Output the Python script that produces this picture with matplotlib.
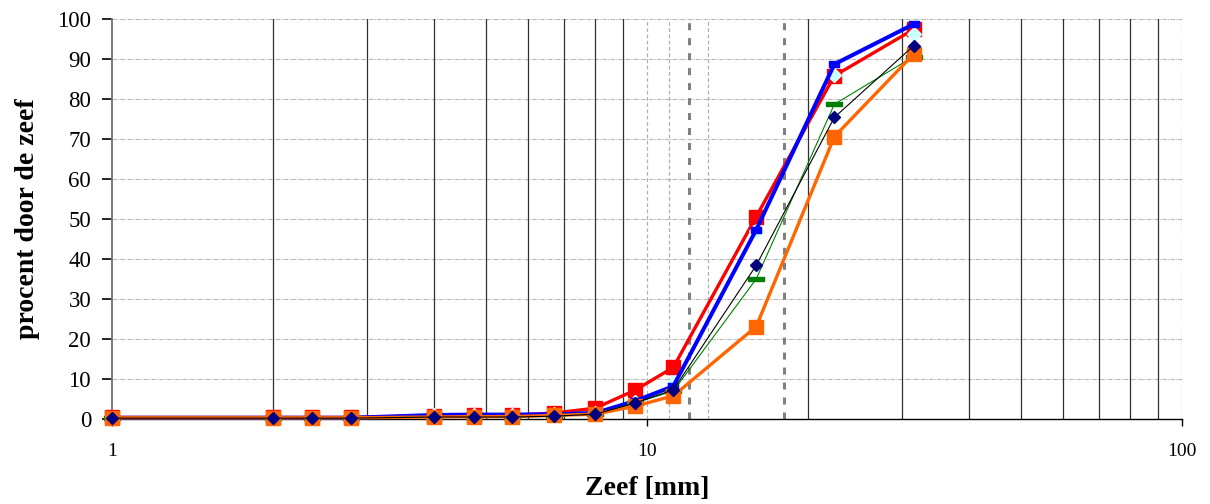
import matplotlib
matplotlib.use('Agg')
import matplotlib.pyplot as plt
from matplotlib.ticker import FixedLocator, NullLocator

plt.rcParams['font.family'] = ['Liberation Serif', 'DejaVu Serif']

# sieve sizes [mm]
zeef = [1, 2, 2.36, 2.8, 4, 4.75, 5.6, 6.7, 8, 9.5, 11.2, 16, 22.4, 31.5]

# percentage passing per sample
rood   = [0.4, 0.4, 0.4, 0.4, 0.8, 0.9, 0.9, 1.5, 2.7, 7.2, 12.9, 50.6, 85.8, 97.4]
blauw  = [0.3, 0.3, 0.3, 0.3, 1.0, 1.1, 1.1, 1.2, 1.5, 4.5, 8.2, 47.3, 88.7, 98.7]
cyaan  = [0.3, 0.3, 0.3, 0.3, 1.0, 1.0, 1.0, 1.2, 1.4, 4.3, 9.0, 47.0, 86.0, 96.2]
groen  = [0.2, 0.2, 0.2, 0.2, 0.5, 0.5, 0.5, 0.7, 1.2, 4.0, 7.0, 35.0, 78.7, 90.6]
oranje = [0.3, 0.3, 0.3, 0.3, 0.5, 0.6, 0.6, 0.9, 1.2, 3.2, 5.8, 23.1, 70.6, 91.2]
navy   = [0.2, 0.2, 0.2, 0.2, 0.5, 0.5, 0.5, 0.7, 1.2, 4.0, 7.3, 38.4, 75.4, 93.3]

# grid / reference lines
solid_grid = [2, 3, 4, 5, 6, 7, 8, 9, 20, 30, 40, 50, 60, 70, 80, 90]
light_grid = [10, 11, 13, 100]
limit_lines = [12, 18]
y_ticks = list(range(0, 101, 10))
x_ticks = [1, 10, 100]

fig = plt.figure(figsize=(12.1, 5.04), dpi=100)
ax = fig.add_axes([112/1210, 1 - 419/504, (1182-112)/1210, 400/504])

ax.set_xscale('log')
ax.set_xlim(1, 100)
ax.set_ylim(0, 100)

# grid lines
for y in y_ticks[1:]:
    ax.axhline(y, color='#b8b8b8', lw=0.8, ls=(0, (4, 1, 1, 1)), zorder=1)
for x in solid_grid:
    ax.axvline(x, color='#303030', lw=0.9, zorder=1)
for x in light_grid:
    ax.axvline(x, color='#b0b0b0', lw=0.9, ls=(0, (3, 2)), zorder=1)
for x in limit_lines:
    ax.axvline(x, color='#808080', lw=2.2, ls=(0, (2.3, 2.6)), zorder=1)

rect_blue = [(-1, -0.5), (1, -0.5), (1, 0.5), (-1, 0.5), (-1, -0.5)]
rect_green = [(-1, -0.28), (1, -0.28), (1, 0.28), (-1, 0.28), (-1, -0.28)]

ax.plot(zeef, rood, color='#ff0000', lw=2.4, marker='s', ms=10.5,
        mec='#ff0000', zorder=3, clip_on=False)
ax.plot(zeef, cyaan, ls='none', marker='D', ms=7.5, mfc='#ccffff',
        mec='#ccffff', zorder=4, clip_on=False)
ax.plot(zeef, blauw, color='#0000ff', lw=2.9, marker=rect_blue, ms=7.5,
        mec='#0000ff', zorder=5, clip_on=False)
ax.plot(zeef, groen, color='#008000', lw=0.8, marker=rect_green, ms=11.5,
        mec='#008000', zorder=6, clip_on=False)
ax.plot(zeef, oranje, color='#ff6600', lw=2.4, marker='s', ms=10.5,
        mec='#ff6600', zorder=7, clip_on=False)
ax.plot(zeef, navy, color='black', lw=0.8, marker='D', ms=6.3,
        mfc='#000080', mec='#000080', zorder=8, clip_on=False)

ax.xaxis.set_major_locator(FixedLocator(x_ticks))
ax.xaxis.set_minor_locator(NullLocator())
ax.set_xticklabels([str(v) for v in x_ticks])
ax.set_yticks(y_ticks)

ax.tick_params(axis='y', direction='out', length=7, width=1.2, pad=8,
               labelsize=16.5, color='black')
ax.tick_params(axis='x', direction='out', length=5, width=1.0, pad=12,
               labelsize=14, color='black')

ax.spines['top'].set_visible(False)
ax.spines['right'].set_visible(False)
ax.spines['left'].set_color('#707070')
ax.spines['left'].set_linewidth(1.3)
ax.spines['bottom'].set_color('black')
ax.spines['bottom'].set_linewidth(1.0)
ax.spines['left'].set_zorder(2)
ax.spines['bottom'].set_zorder(2)

ax.set_xlabel('Zeef [mm]', fontsize=20, fontweight='bold', labelpad=12)
ax.set_ylabel('procent door de zeef', fontsize=20, fontweight='bold', labelpad=12)

plt.savefig('out.png', dpi=100)
